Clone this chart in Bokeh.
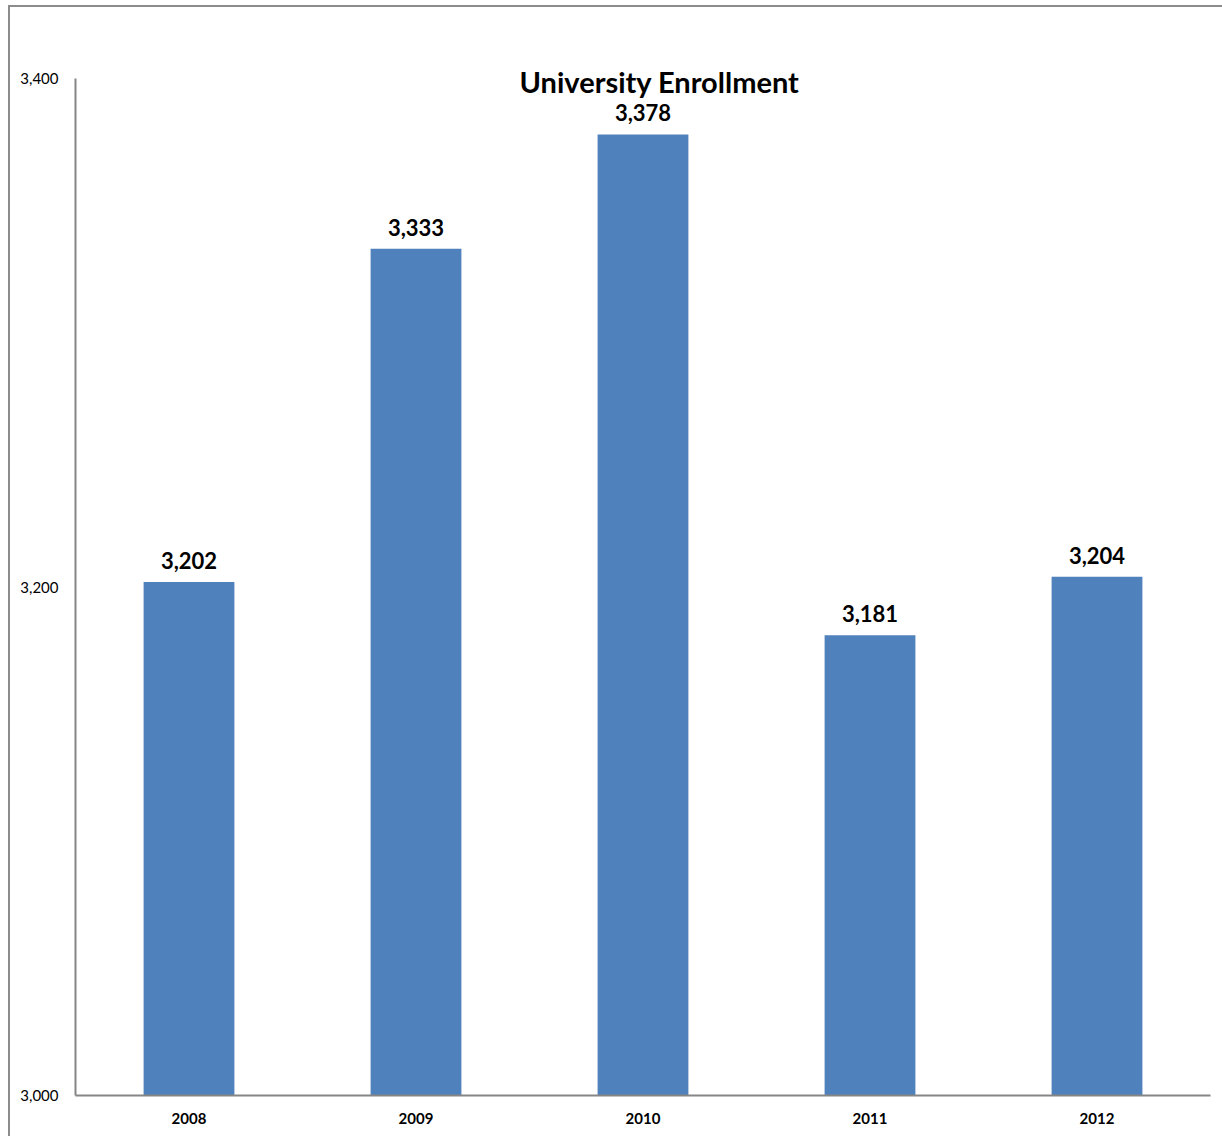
from bokeh.plotting import figure
from bokeh.models import ColumnDataSource, LabelSet, Label, FixedTicker, NumeralTickFormatter
from bokeh.core.properties import value
from bokeh.embed import file_html
from bokeh.resources import INLINE

years = ["2008", "2009", "2010", "2011", "2012"]
enrollment = [3202, 3333, 3378, 3181, 3204]
labels = ["3,202", "3,333", "3,378", "3,181", "3,204"]
y_ticks = [3000, 3200, 3400]
title_text = "University Enrollment"

FONT = "Lato"
src = ColumnDataSource(dict(year=years, value=enrollment, label=labels))

bg = ("linear-gradient(#8c8c8c,#8c8c8c) 8px 5px / 2px 100% no-repeat, "
      "linear-gradient(#8c8c8c,#8c8c8c) 8px 5px / 100% 2px no-repeat, #ffffff")

# frame extends a little above the 3,400 axis end so the title is not clipped
p = figure(x_range=years, y_range=(3000, 3407.08), width=1222, height=1136,
           output_backend="svg", toolbar_location=None,
           min_border_left=75, min_border_right=12, min_border_top=60, min_border_bottom=41,
           styles={"background": bg})
p.background_fill_color = None
p.border_fill_color = None
p.outline_line_color = None
p.xgrid.grid_line_color = None
p.ygrid.grid_line_color = None

p.vbar(x="year", top="value", bottom=3000, width=0.4, source=src,
       fill_color="#4F81BD", line_color=None)

p.add_layout(LabelSet(x="year", y="value", text="label", source=src,
                      text_align="center", text_baseline="bottom", y_offset=13,
                      text_font=value(FONT), text_font_style="bold", text_font_size="22px",
                      text_color="#000000"))

p.add_layout(Label(x=2.573, y=3398.8, text=title_text, text_align="center",
                   text_baseline="middle", text_font=FONT, text_font_style="bold",
                   text_font_size="29px", text_color="#000000"))

p.yaxis.ticker = FixedTicker(ticks=y_ticks)
p.yaxis.formatter = NumeralTickFormatter(format="0,0")
p.yaxis.bounds = (y_ticks[0], y_ticks[-1])
for ax in (p.xaxis, p.yaxis):
    ax.axis_line_color = "#868686"
    ax.axis_line_width = 2
    ax.major_tick_line_color = None
    ax.minor_tick_line_color = None
    ax.major_tick_out = 0
    ax.major_tick_in = 0
    ax.minor_tick_out = 0
    ax.major_label_text_color = "#000000"
    ax.major_label_text_font = FONT
p.yaxis.major_label_text_font_size = "15px"
p.yaxis.major_label_standoff = 17
p.xaxis.major_label_text_font_size = "15px"
p.xaxis.major_label_text_font_style = "bold"
p.xaxis.major_label_standoff = 17
p.x_range.range_padding = 0

open("out.html", "w").write(file_html(p, INLINE))
